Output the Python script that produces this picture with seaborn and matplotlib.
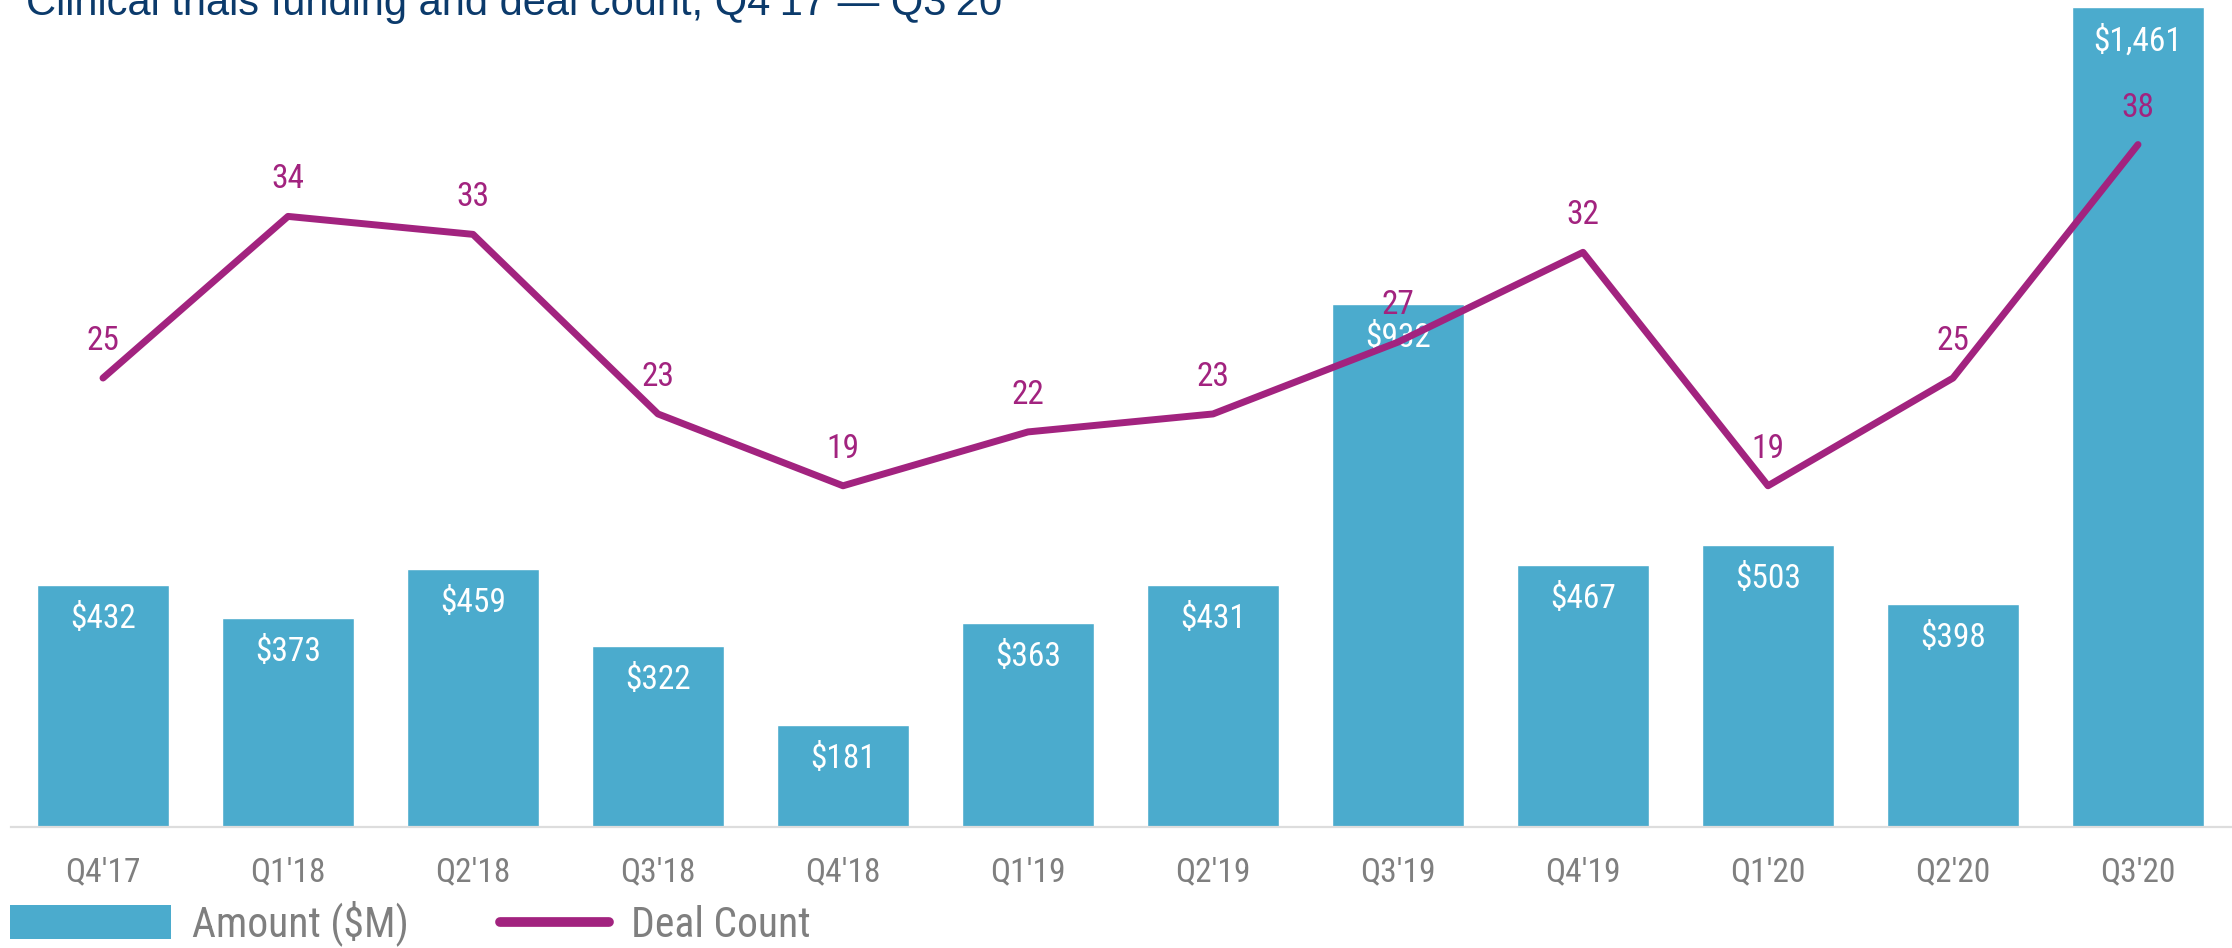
import matplotlib
matplotlib.use("Agg")
import matplotlib.pyplot as plt
from matplotlib import font_manager
from matplotlib.patches import Patch
from matplotlib.lines import Line2D
import seaborn as sns
import pandas as pd

quarters = ["Q4'17", "Q1'18", "Q2'18", "Q3'18", "Q4'18", "Q1'19",
            "Q2'19", "Q3'19", "Q4'19", "Q1'20", "Q2'20", "Q3'20"]
amount_musd = [432, 373, 459, 322, 181, 363, 431, 932, 467, 503, 398, 1461]
deal_count = [25, 34, 33, 23, 19, 22, 23, 27, 32, 19, 25, 38]

title_text = "Clinical trials funding and deal count, Q4\u201917 \u2014 Q3\u201920"
legend_labels = ["Amount ($M)", "Deal Count"]

BAR_COLOR = "#4BABCD"
LINE_COLOR = "#A2237F"
TICK_COLOR = "#7F7F7F"
TITLE_COLOR = "#0B3A6B"

df = pd.DataFrame({"quarter": quarters, "amount": amount_musd, "deals": deal_count})

sns.set_theme(style="white")

# prefer a condensed face for the labels when one is available
installed = {f.name for f in font_manager.fontManager.ttflist}
if "Roboto Condensed" in installed:
    label_family, label_size, legend_size = "Roboto Condensed", 24, 30
else:
    label_family, label_size, legend_size = "Roboto", 22, 27
plt.rcParams["font.family"] = [label_family, "DejaVu Sans"]

W, H = 2232, 948
fig = plt.figure(figsize=(W / 100, H / 100), dpi=100)
ax = fig.add_axes([10.5 / W, 121 / H, 2220 / W, 827 / H])

# funding bars on the primary axis
sns.barplot(data=df, x="quarter", y="amount", color=BAR_COLOR, width=0.714,
            saturation=1, ax=ax)
ax.set_xlim(-0.5, len(quarters) - 0.5)
ax.set_ylim(0, 1474)

for i, v in enumerate(amount_musd):
    ax.annotate(f"${v:,}", xy=(i, v), xytext=(0, -34), textcoords="offset pixels",
                ha="center", va="center", color="white", fontsize=label_size)

# deal count line on a twin axis
ax2 = ax.twinx()
sns.lineplot(data=df, x="quarter", y="deals", color=LINE_COLOR, linewidth=5,
             ax=ax2, solid_capstyle="round", solid_joinstyle="round")
ax2.set_ylim(0, 46.05)
for i, v in enumerate(deal_count):
    ax2.annotate(f"{v}", xy=(i, v), xytext=(0, 37), textcoords="offset pixels",
                 ha="center", va="center", color=LINE_COLOR, fontsize=label_size)

for a in (ax, ax2):
    a.set_xlabel("")
    a.set_ylabel("")
    a.set_yticks([])
    for s in ("top", "left", "right", "bottom"):
        a.spines[s].set_visible(False)
ax.spines["bottom"].set_visible(True)
ax.spines["bottom"].set_color("#DDDDDD")
ax.spines["bottom"].set_linewidth(1.6)
ax.tick_params(axis="x", length=0, pad=21, labelsize=label_size, labelcolor=TICK_COLOR)

fig.text(26 / W, 1 - 15 / H, title_text, ha="left", va="baseline",
         fontsize=30, color=TITLE_COLOR, family=["Liberation Sans", "DejaVu Sans"])

fig.legend(handles=[Patch(facecolor=BAR_COLOR, edgecolor="none")],
           labels=[legend_labels[0]], loc="lower left",
           bbox_to_anchor=(10 / W, 2 / H), frameon=False, fontsize=legend_size,
           handlelength=4.3 * 27 / legend_size, handleheight=27 / legend_size,
           handletextpad=0.55 * 27 / legend_size, labelcolor=TICK_COLOR,
           borderaxespad=0, borderpad=0)
fig.legend(handles=[Line2D([], [], color=LINE_COLOR, linewidth=7)],
           labels=[legend_labels[1]], loc="lower left",
           bbox_to_anchor=(500 / W, 2 / H), frameon=False, fontsize=legend_size,
           handlelength=2.9 * 27 / legend_size, handletextpad=0.6 * 27 / legend_size,
           labelcolor=TICK_COLOR, borderaxespad=0, borderpad=0)

fig.savefig("out.png", dpi=100)
